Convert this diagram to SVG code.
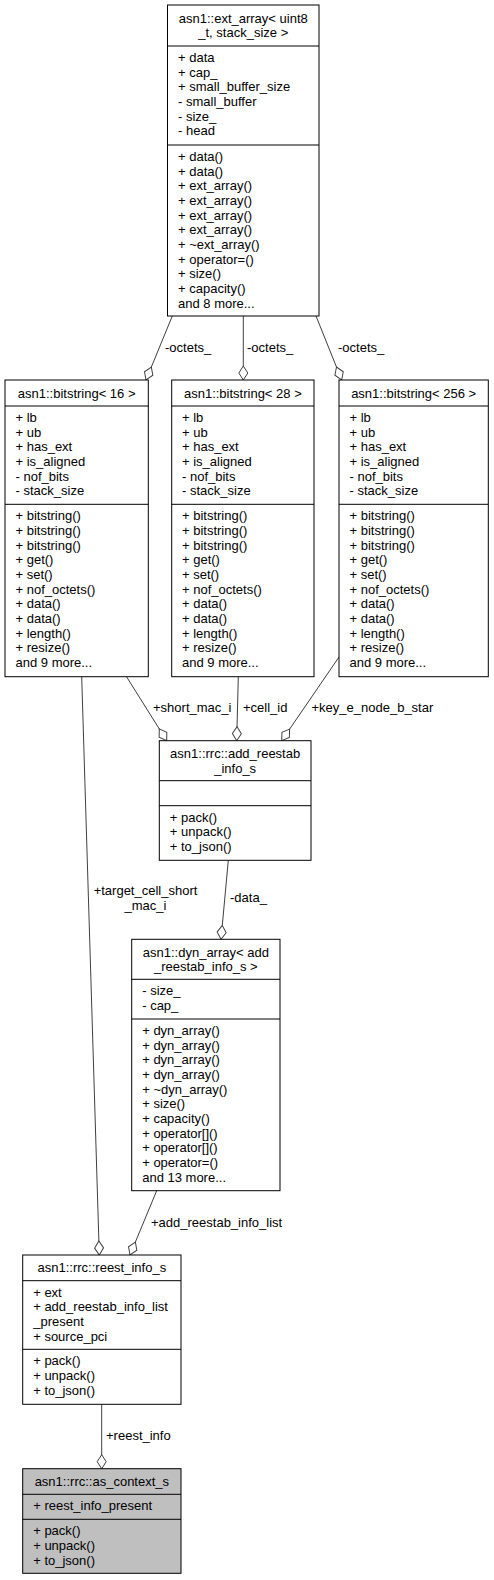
<svg xmlns="http://www.w3.org/2000/svg" width="494" height="1580" viewBox="0 0 494 1580">
<style>
text{font-family:"Liberation Sans",Arial,sans-serif;font-size:13px;fill:#000}
.c{text-anchor:middle}
.b{fill:#fff;stroke:#000;stroke-width:1}
.g{fill:#bfbfbf;stroke:#000;stroke-width:1}
.s{stroke:#000;stroke-width:1}
.e{fill:none;stroke:#404040;stroke-width:1;marker-end:url(#d)}
</style>
<defs>
<marker id="d" markerUnits="userSpaceOnUse" markerWidth="16" markerHeight="12" viewBox="-1 -6 16 12" refX="14" refY="0" orient="auto">
<path d="M0,0 L7,-4.5 L14,0 L7,4.5 Z" fill="#fff" stroke="#404040" stroke-width="1"/>
</marker>
</defs>
<rect width="494" height="1580" fill="#fff"/>

<g id="connectors">
<path class="e" d="M172.3,316 L146,380"/>
<path class="e" d="M243.3,316 L243.3,380"/>
<path class="e" d="M316,316 L341.7,380"/>
<path class="e" d="M126.5,676.7 L166.7,740.7"/>
<path class="e" d="M238.3,676.7 L236.7,740.7"/>
<path class="e" d="M339,657 L281.7,740.7"/>
<path class="e" d="M81.7,676.7 L99.3,1255"/>
<path class="e" d="M228.3,860.3 L221,939.3"/>
<path class="e" d="M156.7,1190.7 L130,1255"/>
<path class="e" d="M101.7,1404.3 L101.7,1468.7"/>
<text x="165" y="351.5">-octets_</text>
<text x="247" y="351.5">-octets_</text>
<text x="338" y="351.5">-octets_</text>
<text x="153" y="711.5">+short_mac_i</text>
<text x="243" y="711.5">+cell_id</text>
<text x="311.5" y="711.5">+key_e_node_b_star</text>
<text class="c" x="145.5" y="895">+target_cell_short</text>
<text class="c" x="145.5" y="910">_mac_i</text>
<text x="230" y="902">-data_</text>
<text x="151" y="1227">+add_reestab_info_list</text>
<text x="106" y="1440">+reest_info</text>
</g>

<g id="ext_array">
<rect class="b" x="167.5" y="5" width="151.5" height="311"/>
<line class="s" x1="167.5" y1="46" x2="319" y2="46"/>
<line class="s" x1="167.5" y1="145" x2="319" y2="145"/>
<text class="c" x="243.25" y="22.7">asn1::ext_array&lt; uint8</text>
<text class="c" x="243.25" y="37.4">_t, stack_size &gt;</text>
<text x="178" y="61.8">+ data</text>
<text x="178" y="76.5">+ cap_</text>
<text x="178" y="91.2">+ small_buffer_size</text>
<text x="178" y="105.9">- small_buffer</text>
<text x="178" y="120.6">- size_</text>
<text x="178" y="135.3">- head</text>
<text x="178" y="160.8">+ data()</text>
<text x="178" y="175.5">+ data()</text>
<text x="178" y="190.2">+ ext_array()</text>
<text x="178" y="204.9">+ ext_array()</text>
<text x="178" y="219.6">+ ext_array()</text>
<text x="178" y="234.3">+ ext_array()</text>
<text x="178" y="249">+ ~ext_array()</text>
<text x="178" y="263.7">+ operator=()</text>
<text x="178" y="278.4">+ size()</text>
<text x="178" y="293.1">+ capacity()</text>
<text x="178" y="307.8">and 8 more...</text>
</g>

<g id="bitstring16">
<rect class="b" x="5" y="380" width="143.3" height="296.7"/>
<line class="s" x1="5" y1="406" x2="148.3" y2="406"/>
<line class="s" x1="5" y1="504.3" x2="148.3" y2="504.3"/>
<text class="c" x="76.65" y="397.6">asn1::bitstring&lt; 16 &gt;</text>
<text x="15.5" y="421.8">+ lb</text>
<text x="15.5" y="436.5">+ ub</text>
<text x="15.5" y="451.2">+ has_ext</text>
<text x="15.5" y="465.9">+ is_aligned</text>
<text x="15.5" y="480.6">- nof_bits</text>
<text x="15.5" y="495.3">- stack_size</text>
<text x="15.5" y="520.1">+ bitstring()</text>
<text x="15.5" y="534.8">+ bitstring()</text>
<text x="15.5" y="549.5">+ bitstring()</text>
<text x="15.5" y="564.2">+ get()</text>
<text x="15.5" y="578.9">+ set()</text>
<text x="15.5" y="593.6">+ nof_octets()</text>
<text x="15.5" y="608.3">+ data()</text>
<text x="15.5" y="623">+ data()</text>
<text x="15.5" y="637.7">+ length()</text>
<text x="15.5" y="652.4">+ resize()</text>
<text x="15.5" y="667.1">and 9 more...</text>
</g>

<g id="bitstring28">
<rect class="b" x="171.7" y="380" width="142.3" height="296.7"/>
<line class="s" x1="171.7" y1="406" x2="314" y2="406"/>
<line class="s" x1="171.7" y1="504.3" x2="314" y2="504.3"/>
<text class="c" x="242.85" y="397.6">asn1::bitstring&lt; 28 &gt;</text>
<text x="182" y="421.8">+ lb</text>
<text x="182" y="436.5">+ ub</text>
<text x="182" y="451.2">+ has_ext</text>
<text x="182" y="465.9">+ is_aligned</text>
<text x="182" y="480.6">- nof_bits</text>
<text x="182" y="495.3">- stack_size</text>
<text x="182" y="520.1">+ bitstring()</text>
<text x="182" y="534.8">+ bitstring()</text>
<text x="182" y="549.5">+ bitstring()</text>
<text x="182" y="564.2">+ get()</text>
<text x="182" y="578.9">+ set()</text>
<text x="182" y="593.6">+ nof_octets()</text>
<text x="182" y="608.3">+ data()</text>
<text x="182" y="623">+ data()</text>
<text x="182" y="637.7">+ length()</text>
<text x="182" y="652.4">+ resize()</text>
<text x="182" y="667.1">and 9 more...</text>
</g>

<g id="bitstring256">
<rect class="b" x="339" y="380" width="149.3" height="296.7"/>
<line class="s" x1="339" y1="406" x2="488.3" y2="406"/>
<line class="s" x1="339" y1="504.3" x2="488.3" y2="504.3"/>
<text class="c" x="413.65" y="397.6">asn1::bitstring&lt; 256 &gt;</text>
<text x="349.5" y="421.8">+ lb</text>
<text x="349.5" y="436.5">+ ub</text>
<text x="349.5" y="451.2">+ has_ext</text>
<text x="349.5" y="465.9">+ is_aligned</text>
<text x="349.5" y="480.6">- nof_bits</text>
<text x="349.5" y="495.3">- stack_size</text>
<text x="349.5" y="520.1">+ bitstring()</text>
<text x="349.5" y="534.8">+ bitstring()</text>
<text x="349.5" y="549.5">+ bitstring()</text>
<text x="349.5" y="564.2">+ get()</text>
<text x="349.5" y="578.9">+ set()</text>
<text x="349.5" y="593.6">+ nof_octets()</text>
<text x="349.5" y="608.3">+ data()</text>
<text x="349.5" y="623">+ data()</text>
<text x="349.5" y="637.7">+ length()</text>
<text x="349.5" y="652.4">+ resize()</text>
<text x="349.5" y="667.1">and 9 more...</text>
</g>

<g id="add_reestab_info_s">
<rect class="b" x="159.3" y="740.7" width="151.7" height="119.6"/>
<line class="s" x1="159.3" y1="780.7" x2="311" y2="780.7"/>
<line class="s" x1="159.3" y1="805.7" x2="311" y2="805.7"/>
<text class="c" x="235.15" y="758">asn1::rrc::add_reestab</text>
<text class="c" x="235.15" y="772.7">_info_s</text>
<text x="169.8" y="821.5">+ pack()</text>
<text x="169.8" y="836.2">+ unpack()</text>
<text x="169.8" y="850.9">+ to_json()</text>
</g>

<g id="dyn_array">
<rect class="b" x="131.7" y="939.3" width="148.3" height="251.4"/>
<line class="s" x1="131.7" y1="979.3" x2="280" y2="979.3"/>
<line class="s" x1="131.7" y1="1019" x2="280" y2="1019"/>
<text class="c" x="205.85" y="956.6">asn1::dyn_array&lt; add</text>
<text class="c" x="205.85" y="971.3">_reestab_info_s &gt;</text>
<text x="142.2" y="995.1">- size_</text>
<text x="142.2" y="1009.8">- cap_</text>
<text x="142.2" y="1034.8">+ dyn_array()</text>
<text x="142.2" y="1049.5">+ dyn_array()</text>
<text x="142.2" y="1064.2">+ dyn_array()</text>
<text x="142.2" y="1078.9">+ dyn_array()</text>
<text x="142.2" y="1093.6">+ ~dyn_array()</text>
<text x="142.2" y="1108.3">+ size()</text>
<text x="142.2" y="1123">+ capacity()</text>
<text x="142.2" y="1137.7">+ operator[]()</text>
<text x="142.2" y="1152.4">+ operator[]()</text>
<text x="142.2" y="1167.1">+ operator=()</text>
<text x="142.2" y="1181.8">and 13 more...</text>
</g>

<g id="reest_info_s">
<rect class="b" x="22.7" y="1255" width="158.3" height="149.3"/>
<line class="s" x1="22.7" y1="1280.7" x2="181" y2="1280.7"/>
<line class="s" x1="22.7" y1="1349.3" x2="181" y2="1349.3"/>
<text class="c" x="101.85" y="1272.4">asn1::rrc::reest_info_s</text>
<text x="33.2" y="1296.5">+ ext</text>
<text x="33.2" y="1311.2">+ add_reestab_info_list</text>
<text x="33.2" y="1325.9">_present</text>
<text x="33.2" y="1340.6">+ source_pci</text>
<text x="33.2" y="1365.1">+ pack()</text>
<text x="33.2" y="1379.8">+ unpack()</text>
<text x="33.2" y="1394.5">+ to_json()</text>
</g>

<g id="as_context_s">
<rect class="g" x="22.7" y="1468.7" width="158.3" height="104.6"/>
<line class="s" x1="22.7" y1="1494.3" x2="181" y2="1494.3"/>
<line class="s" x1="22.7" y1="1519.3" x2="181" y2="1519.3"/>
<text class="c" x="101.85" y="1486.1">asn1::rrc::as_context_s</text>
<text x="33.2" y="1510.1">+ reest_info_present</text>
<text x="33.2" y="1535.1">+ pack()</text>
<text x="33.2" y="1549.8">+ unpack()</text>
<text x="33.2" y="1564.5">+ to_json()</text>
</g>
</svg>
